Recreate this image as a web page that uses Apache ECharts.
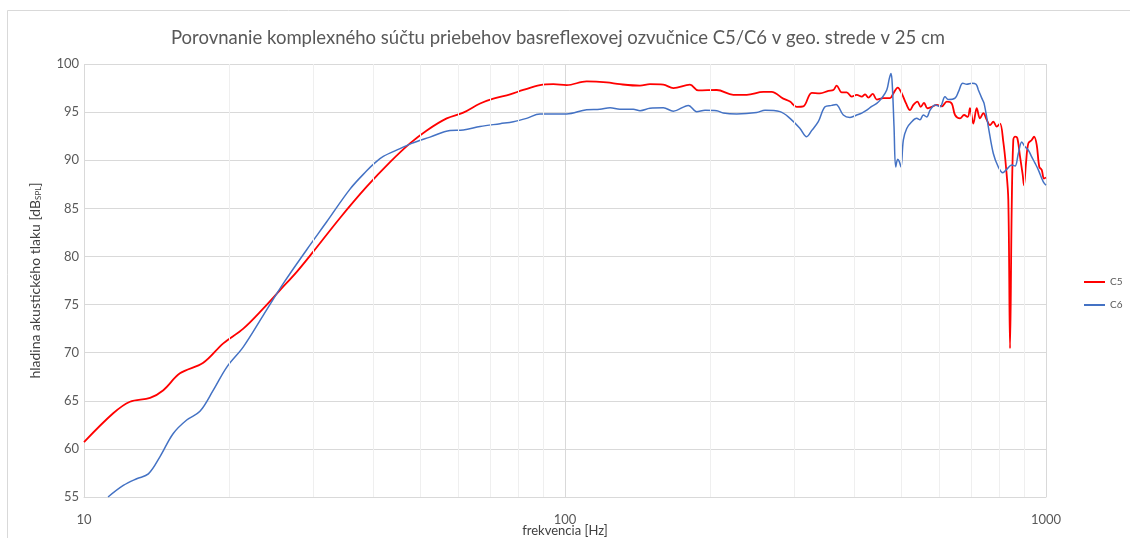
<!DOCTYPE html>
<html>
<head>
<meta charset="utf-8">
<script src="https://cdn.jsdelivr.net/npm/echarts@6/dist/echarts.min.js"></script>
<style>
  html, body { margin: 0; padding: 0; background: #fff; }
  #chart { width: 1130px; height: 538px; }
</style>
</head>
<body>
<div id="chart"></div>
<script>
// C5 (red) – frequency [Hz] / level [dB]
const c5Freq = [10, 11.5, 12.46, 13.72, 14.62, 15.83, 17.7, 19.48, 21.44, 23.6, 25.56, 27.69, 29.97, 34.06,
  38.7, 43.27, 47.61, 51.6, 56.77, 61.45, 66.6, 70.96, 76.89, 81.89, 88.73, 94.56, 100.8, 110.9, 122.1,
  130.1, 143.2, 150.2, 160.1, 168, 181.9, 189.3, 206.8, 223.8, 238.7, 258.5, 268.9, 284.3, 293.6, 303.1,
  312.9, 325.9, 338.9, 352.7, 361.3, 367.2, 376.1, 385.2, 394.5, 404.1, 414, 420.6, 427.3, 436.4, 444.8,
  459.1, 474.1, 481.6, 491.8, 501.2, 511.7, 521.6, 529.9, 540.2, 549, 557.8, 566.7, 578.8, 592.8, 607.2,
  621.9, 636.9, 647, 662.7, 675.5, 687.6, 695, 706.2, 717.7, 729.2, 740.9, 753, 764.9, 777.1, 789.9,
  802.5, 815.2, 825.7, 834.9, 841.8, 848.6, 855.1, 862.2, 871.6, 883, 894.4, 900, 908.7, 918.8, 933.9,
  944.3, 956.5, 968.5, 979.7, 990.4, 1000];
const c5Val = [60.7, 63.7, 64.9, 65.3, 66.1, 67.85, 68.95, 70.97, 72.5, 74.6, 76.5, 78.4, 80.5, 84.0,
  87.25, 89.8, 91.75, 93.1, 94.35, 94.95, 95.9, 96.4, 96.85, 97.3, 97.8, 97.9, 97.8, 98.2, 98.1,
  97.9, 97.75, 97.9, 97.85, 97.5, 97.85, 97.25, 97.3, 96.8, 96.8, 97.1, 97.1, 96.4, 96.1, 95.55,
  95.6, 97.0, 96.95, 97.2, 97.3, 97.75, 97.05, 97.05, 96.6, 96.8, 96.6, 96.85, 96.5, 96.9, 96.3,
  96.45, 96.45, 96.95, 97.55, 96.95, 95.9, 95.2, 95.75, 96.1, 95.55, 95.95, 95.4, 95.55, 95.75, 95.6,
  96.1, 95.9, 94.7, 94.35, 94.7, 94.5, 95.4, 93.8, 95.4, 94.35, 94.9, 94.2, 93.65, 94.0, 93.5,
  93.8, 91.9, 89.3, 85.9, 70.45, 85.0, 92.1, 92.45, 92.3, 90.4, 88.5, 87.4, 89.7, 91.75, 92.1,
  92.45, 91.6, 89.3, 89.0, 88.1, 88.2];

// C6 (blue)
const c6Freq = [11.22, 12.07, 12.87, 13.61, 14.39, 15.33, 16.35, 17.42, 18.57, 19.81, 21.44, 23.6, 25.97,
  29.04, 31.96, 35.73, 38.7, 40.3, 41.9, 45.39, 48, 52.4, 57.68, 61.45, 66.6, 73.3, 78.1, 83.2, 88.73, 100.8,
  110.9, 118.2, 124.1, 130.1, 138.7, 143.2, 150.2, 160.1, 168, 180.5, 187.8, 195.5, 206.8, 213.3, 227.5,
  250.3, 260.5, 279.9, 293.6, 308, 318, 325.9, 336.2, 347.2, 358.5, 366, 379, 391.3, 404.1, 414, 424,
  434.2, 444.8, 455.6, 466.6, 472.4, 476.3, 479.3, 483.1, 487, 491.8, 495.5, 499.5, 505.1, 513.4, 525.8,
  538.5, 547, 555.8, 564.9, 574.1, 588.1, 602.3, 616.6, 626.5, 647, 657.4, 671.4, 684.3, 700.9, 715.5,
  723.4, 735.3, 743.5, 758.6, 777.1, 795.9, 812.8, 828.5, 848.6, 862.2, 875.9, 890.4, 904.5, 918.8,
  933.9, 948.7, 963.9, 987.2, 1000];
const c6Val = [55.0, 56.2, 56.9, 57.4, 59.2, 61.6, 63.0, 63.9, 66.1, 68.5, 70.6, 73.9, 77.2,
  80.7, 83.6, 87.0, 88.9, 89.75, 90.4, 91.2, 91.75, 92.4, 93.1, 93.15, 93.5, 93.8, 94.0, 94.35, 94.8, 94.8,
  95.25, 95.3, 95.45, 95.3, 95.3, 95.15, 95.4, 95.45, 95.1, 95.7, 95.05, 95.2, 95.15, 94.9, 94.8,
  94.95, 95.2, 95.05, 94.35, 93.3, 92.45, 93.1, 94.0, 95.55, 95.7, 95.8, 94.7, 94.45, 94.7, 94.9, 95.2,
  95.6, 95.9, 96.45, 97.3, 98.5, 99.0, 97.65, 93.5, 89.3, 90.1, 89.85, 89.3, 92.1, 93.3, 94.0,
  94.35, 94.2, 94.7, 94.5, 95.2, 95.75, 95.55, 96.6, 96.3, 96.45, 97.1, 98.0, 97.9, 98.0, 97.9,
  97.3, 96.45, 95.9, 93.5, 90.7, 89.3, 88.7, 89.05, 89.5, 89.4, 90.7, 91.9, 91.4, 91.05,
  90.35, 89.7, 89.0, 87.75, 87.4];

const minorFreq = [20, 30, 40, 50, 60, 70, 80, 90, 200, 300, 400, 500, 600, 700, 800, 900];

const zip = (xs, ys) => xs.map((x, i) => [x, ys[i]]);

const font = 'Lato';
const myChart = echarts.init(document.getElementById('chart'));
const option = {
  animation: false,
  backgroundColor: '#fff',
  graphic: [{
    type: 'rect',
    shape: { x: 7.5, y: 10.5, width: 1140, height: 560 },
    style: { fill: 'none', stroke: '#d9d9d9', lineWidth: 1 },
    silent: true
  }],
  title: {
    text: 'Porovnanie komplexného súčtu priebehov basreflexovej ozvučnice C5/C6 v geo. strede v 25 cm',
    left: 166,
    top: 24,
    textStyle: { fontFamily: font, fontSize: 18.5, fontWeight: 'normal', color: '#595959' }
  },
  legend: {
    orient: 'vertical',
    left: 1079,
    top: 272,
    data: ['C5', 'C6'],
    icon: 'rect',
    itemWidth: 21,
    itemHeight: 2,
    itemGap: 13,
    textStyle: { fontFamily: font, fontSize: 10, color: '#595959' }
  },
  grid: { left: 84, right: 84, top: 64, bottom: 41, containLabel: false, outerBoundsMode: 'none' },
  xAxis: {
    type: 'log',
    logBase: 10,
    min: 10,
    max: 1000,
    name: 'frekvencia [Hz]',
    nameLocation: 'middle',
    nameGap: 27,
    nameMoveOverlap: false,
    nameTextStyle: { fontFamily: font, fontSize: 13, color: '#404040' },
    axisLine: { lineStyle: { color: '#d9d9d9' } },
    axisTick: { show: false },
    axisLabel: { fontFamily: font, fontSize: 13, color: '#595959', margin: 16, formatter: v => String(v) },
    splitLine: { show: true, lineStyle: { color: '#d9d9d9' } }
  },
  yAxis: {
    type: 'value',
    min: 55,
    max: 100,
    interval: 5,
    name: 'hladina akustického tlaku [dB{sub|SPL}]',
    nameLocation: 'middle',
    nameGap: 42,
    nameMoveOverlap: false,
    nameTextStyle: {
      fontFamily: font, fontSize: 14, color: '#404040',
      rich: { sub: { fontFamily: font, fontSize: 8, color: '#404040', verticalAlign: 'bottom', padding: [6, 0, 0, 0] } }
    },
    axisLine: { show: false },
    axisTick: { show: false },
    axisLabel: { fontFamily: font, fontSize: 13, color: '#595959', margin: 5 },
    splitLine: { show: true, lineStyle: { color: '#d9d9d9' } }
  },
  series: [
    {
      name: 'minor',
      type: 'line',
      data: [],
      silent: true,
      z: 1,
      markLine: {
        silent: true,
        symbol: 'none',
        label: { show: false },
        lineStyle: { color: '#efefef', type: 'solid', width: 1 },
        data: minorFreq.map(f => ({ xAxis: f }))
      }
    },
    {
      name: 'C5',
      type: 'line',
      data: zip(c5Freq, c5Val),
      showSymbol: false,
      smooth: 0.35,
      color: '#ff0000',
      lineStyle: { width: 1.8, color: '#ff0000' },
      z: 3
    },
    {
      name: 'C6',
      type: 'line',
      data: zip(c6Freq, c6Val),
      showSymbol: false,
      smooth: 0.35,
      color: '#4472c4',
      lineStyle: { width: 1.5, color: '#4472c4' },
      z: 4
    }
  ]
};
myChart.setOption(option);
</script>
</body>
</html>
